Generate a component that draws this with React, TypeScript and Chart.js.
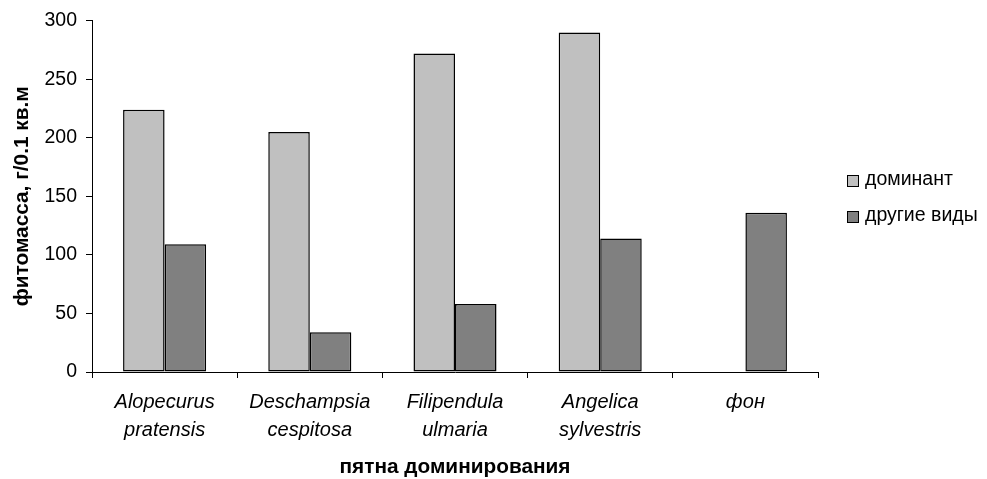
import React, { useEffect, useRef } from "react";
import { Chart, registerables } from "chart.js";

Chart.register(...registerables);

const categories: string[][] = [
  ["Alopecurus", "pratensis"],
  ["Deschampsia", "cespitosa"],
  ["Filipendula", "ulmaria"],
  ["Angelica", "sylvestris"],
  ["фон"],
];
const seriesNames = ["доминант", "другие виды"];
const dominant: (number | null)[] = [224, 205, 272, 290, null];
const others: number[] = [109, 34, 58, 114, 136];
const yTicks = [0, 50, 100, 150, 200, 250, 300];

const FONT = "'Liberation Sans', Arial, sans-serif";

const legendPlugin = {
  id: "customLegend",
  afterDraw(chart: any) {
    const ctx = chart.ctx;
    ctx.save();
    ctx.font = `19.5px ${FONT}`;
    ctx.textBaseline = "middle";
    ctx.textAlign = "left";
    chart.data.datasets.forEach((ds: any, i: number) => {
      const cy = 181 + i * 36;
      ctx.fillStyle = ds.backgroundColor;
      ctx.fillRect(847.5, cy - 5.5, 11, 11);
      ctx.strokeStyle = "#000";
      ctx.lineWidth = 1;
      ctx.strokeRect(847.5, cy - 5.5, 11, 11);
      ctx.fillStyle = "#000";
      ctx.fillText(ds.label, 865, cy - 1);
    });
    ctx.restore();
  },
};

export default function App() {
  const ref = useRef<HTMLCanvasElement>(null);
  useEffect(() => {
    if (!ref.current) return;
    Chart.defaults.color = "#000";
    const chart = new Chart(ref.current, {
      type: "bar",
      data: {
        labels: categories,
        datasets: [
          {
            label: seriesNames[0],
            data: dominant,
            backgroundColor: "#c0c0c0",
            borderColor: "#000",
            borderWidth: 1.5,
            borderSkipped: false,
          },
          {
            label: seriesNames[1],
            data: others,
            backgroundColor: "#808080",
            borderColor: "#000",
            borderWidth: 1.5,
            borderSkipped: false,
          },
        ],
      },
      options: {
        animation: false,
        responsive: true,
        maintainAspectRatio: false,
        layout: { padding: { top: 20, right: 169, bottom: 0, left: 0 } },
        datasets: { bar: { categoryPercentage: 0.572, barPercentage: 1 } },
        plugins: { legend: { display: false }, tooltip: { enabled: false } },
        scales: {
          x: {
            afterFit: (s: any) => {
              s.height = 107;
            },
            grid: {
              drawOnChartArea: false,
              drawTicks: true,
              tickLength: 6,
              color: "#000",
              offset: true,
            },
            border: { display: true, color: "#000", width: 1 },
            ticks: {
              color: "#000",
              padding: 10,
              maxRotation: 0,
              autoSkip: false,
              font: { family: FONT, size: 20, style: "italic", lineHeight: 1.42 },
            },
            title: {
              display: true,
              text: "пятна доминирования",
              color: "#000",
              font: { family: FONT, size: 20.8, weight: "bold", lineHeight: 1 },
              padding: { top: 0, bottom: 1 },
            },
          },
          y: {
            min: 0,
            max: 300,
            afterFit: (s: any) => {
              s.width = 92;
            },
            afterBuildTicks: (s: any) => {
              s.ticks = yTicks.map((v) => ({ value: v }));
            },
            grid: {
              drawOnChartArea: false,
              drawTicks: true,
              tickLength: 6,
              color: "#000",
            },
            border: { display: true, color: "#000", width: 1 },
            ticks: {
              color: "#000",
              padding: 9,
              font: { family: FONT, size: 19.5 },
            },
            title: {
              display: true,
              text: "фитомасса, г/0.1 кв.м",
              color: "#000",
              font: { family: FONT, size: 20.8, weight: "bold", lineHeight: 1 },
              padding: { top: 12, bottom: 0 },
            },
          },
        },
      },
      plugins: [legendPlugin],
    });
    return () => chart.destroy();
  }, []);
  return (
    <div style={{ position: "absolute", left: 0, top: 0, width: 987, height: 479, background: "#fff" }}>
      <canvas ref={ref} />
    </div>
  );
}
